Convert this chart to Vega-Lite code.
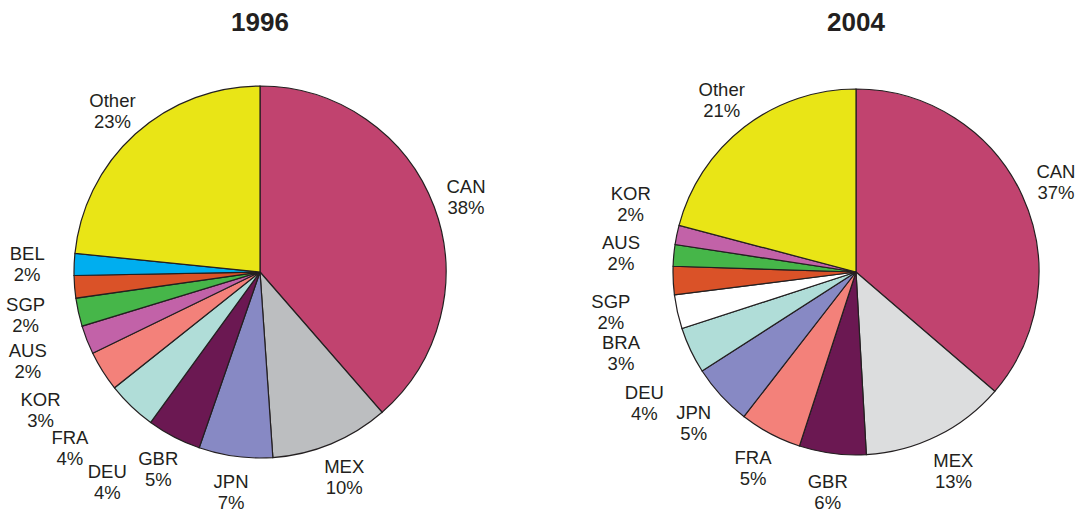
{
  "$schema": "https://vega.github.io/schema/vega-lite/v6.json",
  "padding": {"top": 10, "left": 0, "right": 0, "bottom": 0},
  "spacing": 113,
  "bounds": "flush",
  "background": "white",
  "config": {
    "view": {"stroke": null},
    "font": "Liberation Sans",
    "title": {"fontSize": 26, "fontWeight": "bold", "color": "#231F20", "font": "Liberation Sans", "offset": 7},
    "text": {"font": "Liberation Sans", "fontSize": 18.5, "color": "#231F20", "lineBreak": "\n", "lineHeight": 21, "align": "center", "baseline": "middle", "dy": -8}
  },
  "resolve": {"scale": {"color": "independent"}},
  "datasets": {
    "y1996": [
      {"idx": 1, "name": "CAN", "share": 38.6, "label": "CAN\n38%"},
      {"idx": 2, "name": "MEX", "share": 10.3, "label": "MEX\n10%"},
      {"idx": 3, "name": "JPN", "share": 6.4, "label": "JPN\n7%"},
      {"idx": 4, "name": "GBR", "share": 4.7, "label": "GBR\n5%"},
      {"idx": 5, "name": "DEU", "share": 4.3, "label": "DEU\n4%"},
      {"idx": 6, "name": "FRA", "share": 3.5, "label": "FRA\n4%"},
      {"idx": 7, "name": "KOR", "share": 2.5, "label": "KOR\n3%"},
      {"idx": 8, "name": "AUS", "share": 2.45, "label": "AUS\n2%"},
      {"idx": 9, "name": "SGP", "share": 1.95, "label": "SGP\n2%"},
      {"idx": 10, "name": "BEL", "share": 1.9, "label": "BEL\n2%"},
      {"idx": 11, "name": "Other", "share": 23.4, "label": "Other\n23%"}
    ],
    "y2004": [
      {"idx": 1, "name": "CAN", "share": 36.3, "label": "CAN\n37%"},
      {"idx": 2, "name": "MEX", "share": 12.8, "label": "MEX\n13%"},
      {"idx": 3, "name": "GBR", "share": 5.9, "label": "GBR\n6%"},
      {"idx": 4, "name": "FRA", "share": 5.5, "label": "FRA\n5%"},
      {"idx": 5, "name": "JPN", "share": 5.4, "label": "JPN\n5%"},
      {"idx": 6, "name": "DEU", "share": 4.1, "label": "DEU\n4%"},
      {"idx": 7, "name": "BRA", "share": 3.0, "label": "BRA\n3%"},
      {"idx": 8, "name": "SGP", "share": 2.5, "label": "SGP\n2%"},
      {"idx": 9, "name": "AUS", "share": 1.9, "label": "AUS\n2%"},
      {"idx": 10, "name": "KOR", "share": 1.7, "label": "KOR\n2%"},
      {"idx": 11, "name": "Other", "share": 20.9, "label": "Other\n21%"}
    ]
  },
  "hconcat": [
    {
      "title": "1996",
      "width": 520,
      "height": 458,
      "data": {"name": "y1996"},
      "encoding": {
        "theta": {"field": "share", "type": "quantitative", "stack": true},
        "order": {"field": "idx", "type": "quantitative"}
      },
      "layer": [
        {
          "mark": {"type": "arc", "radius": 186, "stroke": "#231F20", "strokeWidth": 1.2},
          "encoding": {
            "color": {
              "field": "name", "type": "nominal", "legend": null,
              "scale": {
                "domain": ["CAN", "MEX", "JPN", "GBR", "DEU", "FRA", "KOR", "AUS", "SGP", "BEL", "Other"],
                "range": ["#C1436F", "#BCBEC0", "#8789C4", "#6B1852", "#B0DDD8", "#F3817A", "#C262A8", "#46B649", "#DA5228", "#00AEEF", "#E9E516"]
              }
            }
          }
        },
        {
          "mark": {"type": "text", "radius": 220},
          "encoding": {
            "text": {"condition": {"test": "indexof(['CAN','MEX','JPN','GBR','Other'], datum.name) >= 0", "field": "label"}, "value": ""}
          }
        },
        {
          "mark": {"type": "text", "radius": 233},
          "encoding": {
            "text": {"condition": {"test": "datum.name === 'BEL'", "field": "label"}, "value": ""}
          }
        },
        {
          "mark": {"type": "text", "radius": 238, "thetaOffset": -0.094},
          "encoding": {
            "text": {"condition": {"test": "datum.name === 'SGP'", "field": "label"}, "value": ""}
          }
        },
        {
          "mark": {"type": "text", "radius": 248, "thetaOffset": -0.14},
          "encoding": {
            "text": {"condition": {"test": "datum.name === 'AUS'", "field": "label"}, "value": ""}
          }
        },
        {
          "mark": {"type": "text", "radius": 258, "thetaOffset": -0.18},
          "encoding": {
            "text": {"condition": {"test": "indexof(['FRA','KOR'], datum.name) >= 0", "field": "label"}, "value": ""}
          }
        },
        {
          "mark": {"type": "text", "radius": 258, "thetaOffset": -0.13},
          "encoding": {
            "text": {"condition": {"test": "datum.name === 'DEU'", "field": "label"}, "value": ""}
          }
        }
      ]
    },
    {
      "title": "2004",
      "width": 446,
      "height": 458,
      "data": {"name": "y2004"},
      "encoding": {
        "theta": {"field": "share", "type": "quantitative", "stack": true},
        "order": {"field": "idx", "type": "quantitative"}
      },
      "layer": [
        {
          "mark": {"type": "arc", "radius": 183, "stroke": "#231F20", "strokeWidth": 1.2},
          "encoding": {
            "color": {
              "field": "name", "type": "nominal", "legend": null,
              "scale": {
                "domain": ["CAN", "MEX", "GBR", "FRA", "JPN", "DEU", "BRA", "SGP", "AUS", "KOR", "Other"],
                "range": ["#C1436F", "#DCDDDE", "#6B1852", "#F3817A", "#8789C4", "#B0DDD8", "#FFFFFF", "#DA5228", "#46B649", "#C262A8", "#E9E516"]
              }
            }
          }
        },
        {
          "mark": {"type": "text", "radius": 220},
          "encoding": {
            "text": {"condition": {"test": "indexof(['CAN','MEX','GBR','FRA','JPN','Other'], datum.name) >= 0", "field": "label"}, "value": ""}
          }
        },
        {
          "mark": {"type": "text", "radius": 236},
          "encoding": {
            "text": {"condition": {"test": "datum.name === 'AUS'", "field": "label"}, "value": ""}
          }
        },
        {
          "mark": {"type": "text", "radius": 248, "thetaOffset": -0.105},
          "encoding": {
            "text": {"condition": {"test": "indexof(['DEU','BRA','SGP'], datum.name) >= 0", "field": "label"}, "value": ""}
          }
        },
        {
          "mark": {"type": "text", "radius": 236, "thetaOffset": 0.098},
          "encoding": {
            "text": {"condition": {"test": "datum.name === 'KOR'", "field": "label"}, "value": ""}
          }
        }
      ]
    }
  ]
}
